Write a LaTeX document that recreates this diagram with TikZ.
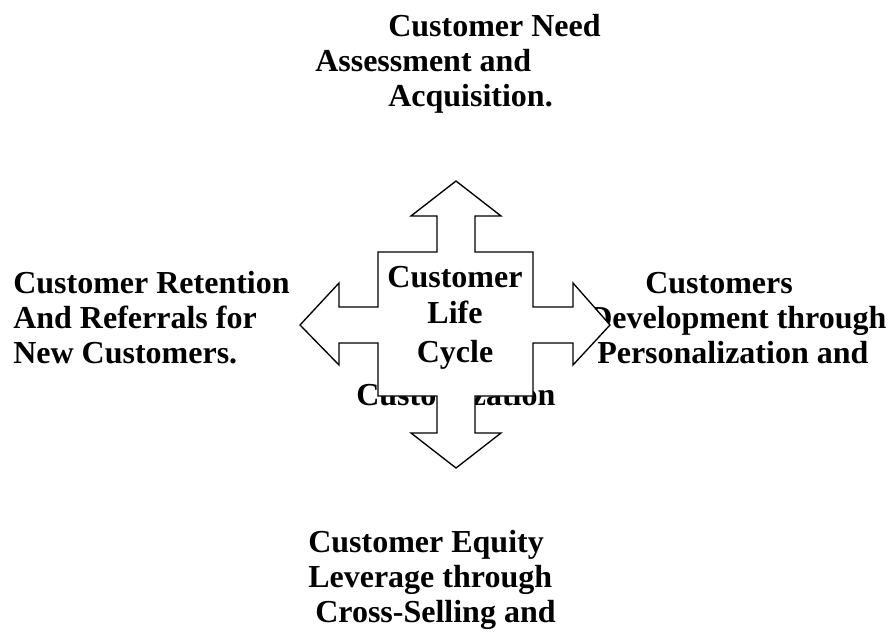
\documentclass[tikz,border=0pt]{standalone}
\usepackage{fontspec}
\setmainfont{Liberation Serif}
\usepackage{tikz}
\usetikzlibrary{calc}

\tikzset{
  textline/.style={anchor=base west, inner sep=0pt, font=\fontsize{24}{28}\selectfont\bfseries},
  hubline/.style={anchor=base, inner sep=0pt, font=\fontsize{24}{28}\selectfont\bfseries},
  crossshape/.style={draw=black, fill=white, line width=1pt, line join=miter}
}

\begin{document}
\begin{tikzpicture}[x=0.75pt, y=-0.75pt]
  \useasboundingbox (0,0) rectangle (891,631);

  % Top: need assessment
  \node[textline] (need1) at (388, 37) {Customer Need};
  \node[textline] (need2) at (315, 72) {Assessment and};
  \node[textline] (need3) at (388,107) {Acquisition.};

  % Left: retention
  \node[textline] (ret1) at (13,293) {Customer Retention};
  \node[textline] (ret2) at (13,328) {And Referrals for};
  \node[textline] (ret3) at (13,363) {New Customers.};

  % Right: development
  \node[textline] (dev1) at (645,293) {Customers};
  \node[textline] (dev2) at (589,328) {Development through};
  \node[textline] (dev3) at (597,363) {Personalization and};
  \node[textline] (dev4) at (356,405) {Customization};

  % Bottom: equity
  \node[textline] (eq1) at (308,552) {Customer Equity};
  \node[textline] (eq2) at (308,587) {Leverage through};
  \node[textline] (eq3) at (315,622) {Cross-Selling and};

  % Four-way arrow, drawn over the texts
  \draw[crossshape] (456,181) -- (501,216) -- (475,216) -- (475,252) -- (533,252)
    -- (533,307) -- (573,307) -- (573,283) -- (610,325) -- (573,365) -- (573,343)
    -- (533,343) -- (533,396) -- (475,396) -- (475,433) -- (501,433) -- (456,468)
    -- (411,433) -- (437,433) -- (437,396) -- (378,396) -- (378,343) -- (339,343)
    -- (339,365) -- (300,325) -- (339,283) -- (339,307) -- (378,307) -- (378,252)
    -- (437,252) -- (437,216) -- (411,216) -- cycle;

  % Hub
  \node[hubline] (hub1) at (455,287) {Customer};
  \node[hubline] (hub2) at (455,323) {Life};
  \node[hubline] (hub3) at (455,362) {Cycle};
\end{tikzpicture}
\end{document}
